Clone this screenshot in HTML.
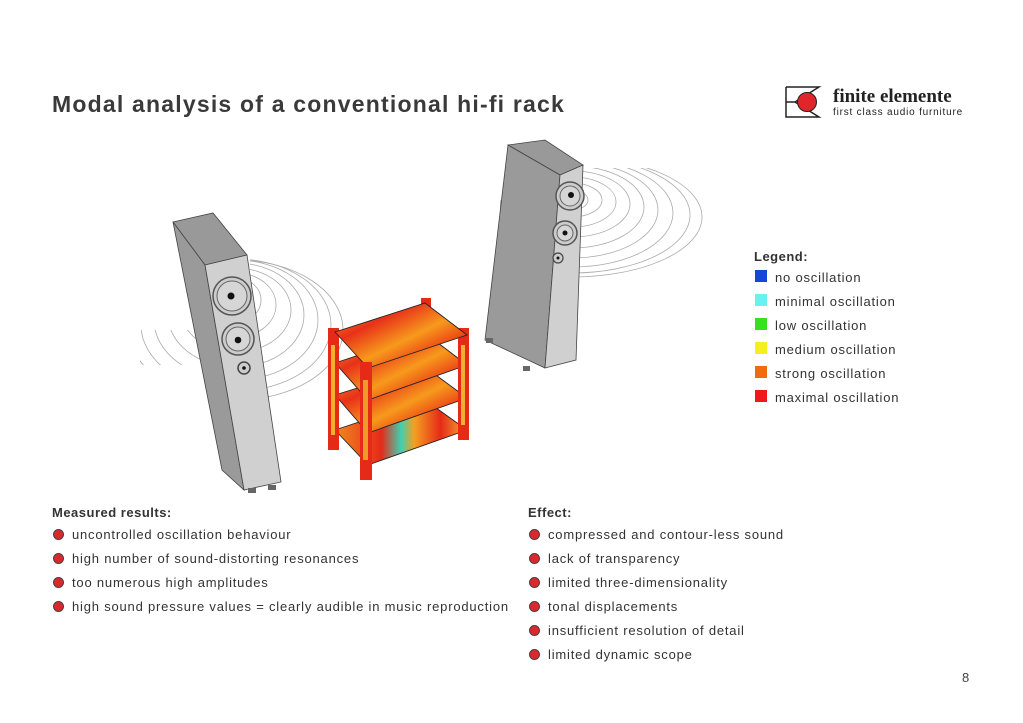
<!DOCTYPE html>
<html><head><meta charset="utf-8"><style>
body{margin:0;background:#fff;width:1023px;height:723px;overflow:hidden;position:relative;font-family:"Liberation Sans",sans-serif;color:#333}
.t{position:absolute;white-space:nowrap}
h1{position:absolute;left:52px;top:91px;margin:0;font-size:23px;font-weight:bold;color:#3a3a3a;letter-spacing:1.2px;white-space:nowrap}
.li{position:absolute;left:775px;font-size:13px;letter-spacing:0.8px;color:#333}
.sq{position:absolute;left:755px;width:12px;height:12px}
.b{position:absolute;width:9px;height:9px;border-radius:50%;background:#e0262b;border:1.5px solid #444}
.it{position:absolute;font-size:13px;letter-spacing:0.8px;color:#333;white-space:nowrap}
.hd{position:absolute;font-size:13px;font-weight:bold;color:#333;letter-spacing:0.5px}
</style></head><body>
<h1>Modal analysis of a conventional hi-fi rack</h1>
<svg style="position:absolute;left:785px;top:86px" width="40" height="32"><path d="M1 1H34L10 16L34 31H1V1M1 16H10" fill="none" stroke="#222" stroke-width="1.5"/><circle cx="22" cy="16" r="9.5" fill="#e0262b" stroke="#222" stroke-width="1"/></svg>
<div class="t" style="left:833px;top:86px;font-family:'Liberation Serif',serif;font-weight:bold;font-size:19px;color:#222">finite elemente</div>
<div class="t" style="left:833px;top:107px;font-size:10px;letter-spacing:0.8px;color:#222">first class audio furniture</div>

<svg style="position:absolute;left:0;top:0" width="1023" height="723">
<defs>
<linearGradient id="g1" x1="0" y1="0" x2="1" y2="1"><stop offset="0" stop-color="#f4a020"/><stop offset=".3" stop-color="#e8311a"/><stop offset=".55" stop-color="#f79a1c"/><stop offset=".8" stop-color="#e82a14"/><stop offset="1" stop-color="#f5c030"/></linearGradient>
<linearGradient id="g2" x1="0" y1="0" x2="1" y2="0"><stop offset="0" stop-color="#f08a20"/><stop offset=".35" stop-color="#e62a18"/><stop offset=".5" stop-color="#40d0b0"/><stop offset=".6" stop-color="#f4a020"/><stop offset=".8" stop-color="#e62a18"/><stop offset="1" stop-color="#f5b030"/></linearGradient>
<clipPath id="cr"><rect x="578" y="168" width="200" height="110"/><polygon points="500,200 560,200 556,260 500,260"/></clipPath>
<clipPath id="cl"><rect x="250" y="240" width="120" height="170"/><rect x="140" y="330" width="65" height="35"/></clipPath>
</defs>
<g fill="none" stroke="#aaa" stroke-width="0.8" clip-path="url(#cr)">
<ellipse cx="572" cy="200" rx="16" ry="10"/><ellipse cx="572" cy="200" rx="30" ry="17"/><ellipse cx="572" cy="202" rx="44" ry="25"/><ellipse cx="572" cy="204" rx="58" ry="33"/><ellipse cx="572" cy="207" rx="72" ry="41"/><ellipse cx="572" cy="210" rx="86" ry="48"/><ellipse cx="572" cy="213" rx="101" ry="54"/><ellipse cx="572" cy="215" rx="118" ry="58"/><ellipse cx="572" cy="217" rx="130" ry="60"/>
</g>
<g fill="none" stroke="#aaa" stroke-width="0.8" clip-path="url(#cl)">
<ellipse cx="236" cy="300" rx="25" ry="22"/><ellipse cx="236" cy="305" rx="40" ry="32"/><ellipse cx="236" cy="310" rx="55" ry="42"/><ellipse cx="236" cy="315" rx="68" ry="52"/><ellipse cx="236" cy="320" rx="82" ry="60"/><ellipse cx="236" cy="325" rx="95" ry="66"/><ellipse cx="236" cy="330" rx="107" ry="70"/>
</g>
<!-- left speaker -->
<polygon points="173,222 213,213 247,255 205,265" fill="#999" stroke="#444" stroke-width="0.8"/>
<polygon points="173,222 205,265 244,490 222,470" fill="#9a9a9a" stroke="#444" stroke-width="0.8"/>
<polygon points="205,265 247,255 281,482 244,490" fill="#d0d0d0" stroke="#444" stroke-width="0.8"/>
<circle cx="232" cy="296" r="19" fill="#ccc" stroke="#555" stroke-width="1.5"/><circle cx="232" cy="296" r="15" fill="#d6d6d6" stroke="#666"/><circle cx="231" cy="296" r="3.5" fill="#111"/>
<circle cx="238" cy="339" r="16" fill="#ccc" stroke="#555" stroke-width="1.5"/><circle cx="238" cy="339" r="12" fill="#d6d6d6" stroke="#666"/><circle cx="238" cy="340" r="3.3" fill="#111"/>
<circle cx="244" cy="368" r="6" fill="#ccc" stroke="#444" stroke-width="1.5"/><circle cx="244" cy="368" r="1.8" fill="#111"/>
<rect x="248" y="488" width="8" height="5" fill="#666"/><rect x="268" y="485" width="8" height="5" fill="#666"/>
<!-- right speaker -->
<polygon points="508,145 545,140 583,165 560,175" fill="#999" stroke="#444" stroke-width="0.8"/>
<polygon points="508,145 560,175 545,368 485,340" fill="#9a9a9a" stroke="#444" stroke-width="0.8"/>
<polygon points="560,175 583,165 576,360 545,368" fill="#d0d0d0" stroke="#444" stroke-width="0.8"/>
<circle cx="570" cy="196" r="14" fill="#ccc" stroke="#555" stroke-width="1.5"/><circle cx="570" cy="196" r="10" fill="#d6d6d6" stroke="#666"/><circle cx="571" cy="195" r="3" fill="#111"/>
<circle cx="565" cy="233" r="12" fill="#ccc" stroke="#555" stroke-width="1.5"/><circle cx="565" cy="233" r="8" fill="#d6d6d6" stroke="#666"/><circle cx="565" cy="233" r="2.5" fill="#111"/>
<circle cx="558" cy="258" r="5" fill="#ccc" stroke="#444" stroke-width="1.2"/><circle cx="558" cy="258" r="1.5" fill="#111"/>
<rect x="523" y="366" width="7" height="5" fill="#666"/><rect x="486" y="338" width="7" height="5" fill="#666"/>
<!-- rack -->
<rect x="421" y="298" width="10" height="10" fill="#e82a14"/>
<polygon points="335,430 425,400 467,430 368,465" fill="url(#g2)" stroke="#222" stroke-width="0.9"/>
<polygon points="335,395 425,367 467,398 368,433" fill="url(#g1)" stroke="#222" stroke-width="0.9"/>
<polygon points="335,363 425,333 467,365 368,400" fill="url(#g1)" stroke="#222" stroke-width="0.9"/>
<rect x="328" y="328" width="11" height="122" fill="#e62a18"/><rect x="331" y="345" width="4" height="90" fill="#f0b030"/>
<rect x="458" y="328" width="11" height="112" fill="#e62a18"/><rect x="461" y="345" width="4" height="80" fill="#f0b030"/>
<polygon points="335,332 425,303 467,335 368,368" fill="url(#g1)" stroke="#222" stroke-width="0.9"/>
<rect x="360" y="362" width="12" height="118" fill="#e62a18"/><rect x="363" y="380" width="5" height="80" fill="#f09a28"/>
</svg>

<div class="hd" style="left:754px;top:249px">Legend:</div>
<div class="sq" style="top:270px;background:#1446d8"></div><div class="li" style="top:270px">no oscillation</div>
<div class="sq" style="top:294px;background:#6af0f0"></div><div class="li" style="top:294px">minimal oscillation</div>
<div class="sq" style="top:318px;background:#38e020"></div><div class="li" style="top:318px">low oscillation</div>
<div class="sq" style="top:342px;background:#f4f020"></div><div class="li" style="top:342px">medium oscillation</div>
<div class="sq" style="top:366px;background:#f06a10"></div><div class="li" style="top:366px">strong oscillation</div>
<div class="sq" style="top:390px;background:#f01818"></div><div class="li" style="top:390px">maximal oscillation</div>

<div class="hd" style="left:52px;top:505px">Measured results:</div>
<div class="b" style="left:53px;top:529px"></div><div class="it" style="left:72px;top:527px">uncontrolled oscillation behaviour</div>
<div class="b" style="left:53px;top:553px"></div><div class="it" style="left:72px;top:551px">high number of sound-distorting resonances</div>
<div class="b" style="left:53px;top:577px"></div><div class="it" style="left:72px;top:575px">too numerous high amplitudes</div>
<div class="b" style="left:53px;top:601px"></div><div class="it" style="left:72px;top:599px">high sound pressure values = clearly audible in music reproduction</div>

<div class="hd" style="left:528px;top:505px">Effect:</div>
<div class="b" style="left:529px;top:529px"></div><div class="it" style="left:548px;top:527px">compressed and contour-less sound</div>
<div class="b" style="left:529px;top:553px"></div><div class="it" style="left:548px;top:551px">lack of transparency</div>
<div class="b" style="left:529px;top:577px"></div><div class="it" style="left:548px;top:575px">limited three-dimensionality</div>
<div class="b" style="left:529px;top:601px"></div><div class="it" style="left:548px;top:599px">tonal displacements</div>
<div class="b" style="left:529px;top:625px"></div><div class="it" style="left:548px;top:623px">insufficient resolution of detail</div>
<div class="b" style="left:529px;top:649px"></div><div class="it" style="left:548px;top:647px">limited dynamic scope</div>
<div class="t" style="left:962px;top:670px;font-size:13px;color:#444">8</div>
</body></html>
